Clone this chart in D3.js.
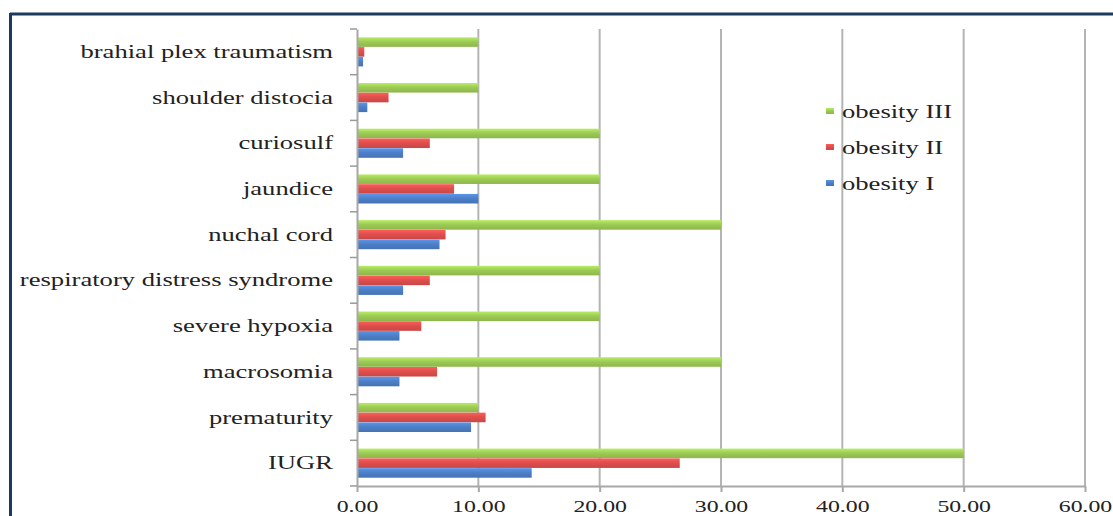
<!DOCTYPE html>
<html>
<head>
<meta charset="utf-8">
<script src="https://cdn.jsdelivr.net/npm/d3@7"></script>
<style>
  html, body { margin: 0; padding: 0; background: #fff; }
  svg { display: block; }
  text { font-family: "Liberation Serif", "Times New Roman", serif; fill: #222; }
</style>
</head>
<body>
<svg id="chart" width="1113" height="516"></svg>
<script>
// Neonatal complications by maternal obesity class (%)
const categories = [
  "brahial plex traumatism",
  "shoulder distocia",
  "curiosulf",
  "jaundice",
  "nuchal cord",
  "respiratory distress syndrome",
  "severe hypoxia",
  "macrosomia",
  "prematurity",
  "IUGR"
];
const seriesNames = ["obesity III", "obesity II", "obesity I"];
const obesityIII = [10, 10, 20, 20, 30, 20, 20, 30, 10, 50];
const obesityII  = [0.6, 2.6, 6.0, 8.0, 7.3, 6.0, 5.3, 6.6, 10.6, 26.6];
const obesityI   = [0.5, 0.85, 3.8, 10.0, 6.8, 3.8, 3.5, 3.5, 9.4, 14.4];
const xTicks = [0, 10, 20, 30, 40, 50, 60];
const colors = ["#9dcb55", "#df4f4d", "#4d80c8"];

const series = [obesityIII, obesityII, obesityI];
// labels are set in a horizontally widened serif
const stretch = 1.4;

const svg = d3.select("#chart");

// soft glossy shading for the bars
const defs = svg.append("defs");
colors.forEach((c, k) => {
  const g = defs.append("linearGradient").attr("id", "bar" + k)
    .attr("x1", 0).attr("y1", 0).attr("x2", 0).attr("y2", 1);
  g.append("stop").attr("offset", "0%").attr("stop-color", d3.color(c).brighter(0.45));
  g.append("stop").attr("offset", "45%").attr("stop-color", c);
  g.append("stop").attr("offset", "100%").attr("stop-color", d3.color(c).darker(0.3));
});

// frame lines
svg.append("line").attr("x1", 10).attr("x2", 1113).attr("y1", 14).attr("y2", 14)
  .attr("stroke", "#1c3a5e").attr("stroke-width", 3);
svg.append("line").attr("x1", 10.5).attr("x2", 10.5).attr("y1", 13).attr("y2", 516)
  .attr("stroke", "#1c3a5e").attr("stroke-width", 3);

const plotLeft = 357, plotRight = 1085, plotTop = 29, plotBottom = 486;

const x = d3.scaleLinear().domain([0, 60]).range([plotLeft, plotRight]);
const y = d3.scaleBand().domain(categories).range([plotTop, plotBottom]);
const inner = d3.scaleBand().domain(seriesNames)
  .range([0, y.bandwidth()]).paddingInner(0.02).paddingOuter(0.85);

// vertical gridlines
svg.append("g").selectAll("line").data(xTicks.slice(1)).join("line")
  .attr("x1", d => x(d)).attr("x2", d => x(d))
  .attr("y1", plotTop).attr("y2", plotBottom)
  .attr("stroke", "#b4b4b4").attr("stroke-width", 2);

// bars
const groups = svg.append("g").selectAll("g").data(categories).join("g")
  .attr("transform", d => `translate(0,${y(d)})`);

groups.selectAll("rect")
  .data((c, i) => series.map((s, k) => ({ name: seriesNames[k], v: s[i], k })))
  .join("rect")
  .attr("x", x(0))
  .attr("y", d => inner(d.name))
  .attr("width", d => x(d.v) - x(0))
  .attr("height", inner.bandwidth())
  .attr("fill", d => `url(#bar${d.k})`);

function widen(sel) {
  sel.each(function () {
    const t = d3.select(this);
    const x0 = +t.attr("x") || 0;
    t.attr("x", x0 / stretch).attr("transform", `scale(${stretch},1)`);
  });
}

// y axis
const yAxis = d3.axisLeft(y).tickSize(0).tickPadding(24);
const gy = svg.append("g").attr("transform", `translate(${plotLeft},0)`).call(yAxis);
gy.select(".domain").attr("stroke", "#a8a8a8").attr("stroke-width", 2);
gy.selectAll("text").attr("font-size", 19).attr("font-family", "Liberation Serif")
  .attr("fill", "#222").call(widen);
// category separators
svg.append("g").selectAll("line").data(d3.range(categories.length + 1)).join("line")
  .attr("x1", plotLeft - 7).attr("x2", plotLeft)
  .attr("y1", i => plotTop + i * y.step()).attr("y2", i => plotTop + i * y.step())
  .attr("stroke", "#999").attr("stroke-width", 1.5);

// x axis
const xAxis = d3.axisBottom(x).tickValues(xTicks).tickFormat(d3.format(".2f"))
  .tickSize(6).tickSizeOuter(0).tickPadding(8);
const gx = svg.append("g").attr("transform", `translate(0,${plotBottom})`).call(xAxis);
gx.select(".domain").attr("stroke", "#a8a8a8").attr("stroke-width", 2);
gx.selectAll(".tick line").attr("stroke", "#a8a8a8").attr("stroke-width", 2);
gx.selectAll("text").attr("font-size", 17).attr("font-family", "Liberation Serif")
  .attr("fill", "#222").call(widen);

// legend
const legend = svg.append("g").attr("transform", "translate(826,111)");
const li = legend.selectAll("g").data(seriesNames).join("g")
  .attr("transform", (d, i) => `translate(0,${i * 36})`);
li.append("rect").attr("x", 0).attr("y", -3).attr("width", 8).attr("height", 6)
  .attr("fill", (d, i) => `url(#bar${i})`);
li.append("text").attr("x", 16).attr("y", 7).attr("font-size", 19).text(d => d).call(widen);
</script>
</body>
</html>
